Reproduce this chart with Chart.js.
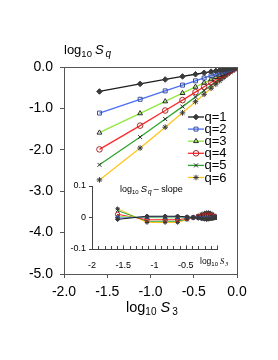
<!DOCTYPE html>
<html>
<head>
<meta charset="utf-8">
<script src="https://cdn.jsdelivr.net/npm/chart.js@4/dist/chart.umd.min.js"></script>
<style>
html,body{margin:0;padding:0;background:#fff;}
#wrap{position:relative;width:278px;height:360px;}
canvas{position:absolute;left:0;top:0;}
</style>
</head>
<body>
<div id="wrap">
<canvas id="main" width="278" height="360"></canvas>
<canvas id="inset" width="278" height="360"></canvas>
</div>
<script>
// log10 S3 (x values)
const X = [-1.59, -1.12, -0.83, -0.63, -0.48, -0.38, -0.30, -0.245, -0.20, -0.165, -0.135, -0.105, -0.08, -0.055, -0.035, -0.015, 0.0];
// log10 Sq for q = 1..6
const Q1 = [-0.591, -0.408, -0.301, -0.228, -0.175, -0.140, -0.112, -0.094, -0.079, -0.067, -0.055, -0.043, -0.032, -0.022, -0.014, -0.006, 0.000];
const Q2 = [-1.112, -0.780, -0.577, -0.438, -0.334, -0.265, -0.210, -0.173, -0.143, -0.118, -0.097, -0.075, -0.058, -0.039, -0.024, -0.010, 0.000];
const Q3 = [-1.587, -1.120, -0.831, -0.631, -0.480, -0.380, -0.300, -0.245, -0.200, -0.165, -0.135, -0.105, -0.080, -0.055, -0.035, -0.015, 0.000];
const Q4 = [-1.990, -1.416, -1.051, -0.800, -0.607, -0.478, -0.374, -0.303, -0.245, -0.200, -0.162, -0.125, -0.096, -0.066, -0.042, -0.018, 0.000];
const Q5 = [-2.363, -1.692, -1.257, -0.957, -0.725, -0.570, -0.445, -0.359, -0.289, -0.236, -0.191, -0.147, -0.111, -0.077, -0.050, -0.022, 0.000];
const Q6 = [-2.727, -1.957, -1.454, -1.108, -0.839, -0.659, -0.514, -0.414, -0.333, -0.270, -0.218, -0.168, -0.128, -0.087, -0.057, -0.024, 0.000];
// inset: log10 Sq - slope * log10 S3
const R1 = [-0.006, 0.004, 0.004, 0.004, 0.002, 0.000, -0.002, -0.004, -0.005, -0.006, -0.005, -0.004, -0.003, -0.002, -0.001, 0.000, 0.000];
const R2 = [-0.002, 0.002, 0.002, 0.002, 0.001, 0.000, -0.001, -0.002, -0.003, -0.003, -0.003, -0.002, -0.002, -0.001, 0.000, 0.000, 0.000];
const R3 = [0.003, 0.000, -0.001, -0.001, 0.000, 0.000, 0.000, 0.000, 0.000, 0.000, 0.000, 0.000, 0.000, 0.000, 0.000, 0.000, 0.000];
const R4 = [0.010, -0.007, -0.007, -0.007, -0.003, 0.000, 0.003, 0.005, 0.007, 0.008, 0.008, 0.007, 0.005, 0.003, 0.002, 0.001, 0.000];
const R5 = [0.022, -0.012, -0.012, -0.012, -0.005, 0.000, 0.005, 0.009, 0.011, 0.012, 0.012, 0.011, 0.009, 0.006, 0.003, 0.001, 0.000];
const R6 = [0.028, -0.016, -0.016, -0.016, -0.007, 0.000, 0.006, 0.011, 0.014, 0.016, 0.016, 0.014, 0.011, 0.008, 0.004, 0.002, 0.000];

const SERIES_NAMES = ['q=1', 'q=2', 'q=3', 'q=4', 'q=5', 'q=6'];
const MAIN_X_TICKS = [-2.0, -1.5, -1.0, -0.5, 0.0];
const MAIN_Y_TICKS = [0.0, -1.0, -2.0, -3.0, -4.0, -5.0];
const INSET_X_TICKS = [-2, -1.5, -1, -0.5];
const INSET_Y_TICKS = [0.1, 0, -0.1];

const LINE_COLORS = ['#1e1e1e', '#4b6ef5', '#8fe83c', '#ff2b2b', '#2ea52e', '#ffc41f'];
const MARK_COLORS = ['#3a3a3a', '#3a4f9e', '#2a2a2a', '#a02828', '#2a2a2a', '#3a3a3a'];
const MARK_FILL = ['#3a3a3a', 'rgba(255,255,255,0)', 'rgba(255,255,255,0)', 'rgba(255,255,255,0)', 'rgba(255,255,255,0)', 'rgba(255,255,255,0)'];
const STYLES = ['rectRot', 'rect', 'triangle', 'circle', 'crossRot', 'star'];
const MAIN_SERIES = [Q1, Q2, Q3, Q4, Q5, Q6];
const INSET_SERIES = [R1, R2, R3, R4, R5, R6];

const SANS = '"Liberation Sans", Arial, sans-serif';
const SERIF = '"Liberation Serif", "Times New Roman", serif';

function pts(ys) { return X.map((x, i) => ({x: x, y: ys[i]})); }

function rich(ctx, x, y, parts, color) {
  ctx.save();
  ctx.fillStyle = color || '#000';
  ctx.textBaseline = 'alphabetic';
  ctx.textAlign = 'left';
  let cx = x;
  for (const p of parts) {
    ctx.font = p.f;
    ctx.fillText(p.t, cx, y + (p.dy || 0));
    cx += ctx.measureText(p.t).width + (p.gap || 0);
  }
  ctx.restore();
}

const mainPlugin = {
  id: 'mainDeco',
  afterDraw(chart) {
    const ctx = chart.ctx, a = chart.chartArea;
    ctx.save();
    ctx.strokeStyle = '#555';
    ctx.lineWidth = 1;
    ctx.strokeRect(Math.round(a.left) + 0.5, Math.round(a.top) + 0.5, Math.round(a.right - a.left), Math.round(a.bottom - a.top));
    ctx.restore();
    // y title
    rich(ctx, 64, 54, [
      {t: 'log', f: '13px ' + SANS},
      {t: '10', f: '9.5px ' + SANS, dy: 2.5, gap: 3},
      {t: 'S', f: 'italic 13px ' + SANS, gap: 2},
      {t: 'q', f: 'italic 10px ' + SANS, dy: 3}
    ]);
    // x title
    rich(ctx, 126, 312, [
      {t: 'log', f: '14.5px ' + SANS},
      {t: '10', f: '10px ' + SANS, dy: 3, gap: 4},
      {t: 'S', f: 'italic 14.5px ' + SANS, gap: 2},
      {t: '3', f: '10px ' + SANS, dy: 3}
    ]);
    // legend
    for (let i = 0; i < 6; i++) {
      const ly = 117 + i * 12.1;
      ctx.save();
      ctx.strokeStyle = LINE_COLORS[i];
      ctx.lineWidth = 1.3;
      ctx.beginPath();
      ctx.moveTo(188, ly); ctx.lineTo(204, ly);
      ctx.stroke();
      ctx.strokeStyle = MARK_COLORS[i];
      ctx.fillStyle = MARK_FILL[i];
      ctx.lineWidth = 1;
      Chart.helpers.drawPoint(ctx, {pointStyle: STYLES[i], radius: 2.8, borderWidth: 1, rotation: 0}, 196, ly);
      ctx.restore();
      ctx.save();
      ctx.fillStyle = '#000';
      ctx.font = '13px ' + SANS;
      ctx.textBaseline = 'middle';
      ctx.fillText(SERIES_NAMES[i], 204.5, ly + 0.5);
      ctx.restore();
    }
  }
};

new Chart(document.getElementById('main'), {
  type: 'scatter',
  data: {
    datasets: MAIN_SERIES.map((s, i) => ({
      label: SERIES_NAMES[i],
      data: pts(s),
      showLine: true,
      borderColor: LINE_COLORS[i],
      borderWidth: 1.3,
      pointStyle: STYLES[i],
      pointRadius: 2.8,
      pointBorderWidth: 1,
      pointBorderColor: MARK_COLORS[i],
      pointBackgroundColor: MARK_FILL[i],
      tension: 0
    }))
  },
  options: {
    responsive: false,
    animation: false,
    devicePixelRatio: 1,
    layout: {padding: {left: 0, right: 41, top: 67, bottom: 0}},
    plugins: {legend: {display: false}, tooltip: {enabled: false}},
    scales: {
      x: {
        type: 'linear', min: -2, max: 0,
        afterFit(s) { s.height = 86; },
        afterBuildTicks(s) { s.ticks = MAIN_X_TICKS.map(v => ({value: v})); },
        ticks: {
          callback: v => Number(v).toFixed(1),
          font: {family: SANS, size: 14}, color: '#000', padding: 6, maxRotation: 0
        },
        grid: {display: true, drawOnChartArea: false, drawTicks: true, tickLength: 4, color: '#555'},
        border: {display: true, color: '#555'}
      },
      y: {
        type: 'linear', min: -5, max: 0,
        afterFit(s) { s.width = 64; },
        afterBuildTicks(s) { s.ticks = MAIN_Y_TICKS.map(v => ({value: v})); },
        ticks: {
          callback: v => Number(v).toFixed(1),
          font: {family: SANS, size: 14}, color: '#000', padding: 7
        },
        grid: {display: true, drawOnChartArea: false, drawTicks: true, tickLength: 4, color: '#555'},
        border: {display: true, color: '#555'}
      }
    }
  },
  plugins: [mainPlugin]
});

const insetPlugin = {
  id: 'insetDeco',
  afterDraw(chart) {
    const ctx = chart.ctx, a = chart.chartArea, xs = chart.scales.x;
    ctx.save();
    ctx.strokeStyle = '#444';
    ctx.lineWidth = 1;
    for (let k = -20; k <= 0; k++) {
      const px = Math.round(xs.getPixelForValue(k / 10)) + 0.5;
      const len = (k % 5 === 0) ? 3.5 : 3;
      ctx.beginPath();
      ctx.moveTo(px, a.bottom);
      ctx.lineTo(px, a.bottom - len);
      ctx.stroke();
    }
    ctx.restore();
    rich(ctx, 120, 192, [
      {t: 'log', f: '9px ' + SANS},
      {t: '10', f: '6px ' + SANS, dy: 2, gap: 2},
      {t: 'S', f: 'italic 9.5px ' + SANS, gap: 1},
      {t: 'q', f: 'italic 6.5px ' + SANS, dy: 2, gap: 2},
      {t: '\u2013 slope', f: '9px ' + SANS}
    ]);
    rich(ctx, 200, 264, [
      {t: 'log', f: '8.5px ' + SANS},
      {t: '10', f: '6px ' + SANS, dy: 1.5, gap: 2},
      {t: 'S', f: 'italic 8.5px ' + SERIF, gap: 1},
      {t: '3', f: 'italic 6px ' + SERIF, dy: 1.5}
    ]);
  }
};

new Chart(document.getElementById('inset'), {
  type: 'scatter',
  data: {
    datasets: INSET_SERIES.map((s, i) => ({
      label: SERIES_NAMES[i],
      data: pts(s),
      showLine: true,
      borderColor: LINE_COLORS[i],
      borderWidth: 1,
      pointStyle: STYLES[i],
      pointRadius: 2.2,
      pointBorderWidth: 1,
      pointBorderColor: MARK_COLORS[i],
      pointBackgroundColor: MARK_FILL[i],
      tension: 0
    }))
  },
  options: {
    responsive: false,
    animation: false,
    devicePixelRatio: 1,
    layout: {padding: {left: 0, right: 61, top: 186, bottom: 0}},
    plugins: {legend: {display: false}, tooltip: {enabled: false}},
    scales: {
      x: {
        type: 'linear', min: -2, max: 0,
        afterFit(s) { s.height = 111; },
        afterBuildTicks(s) { s.ticks = INSET_X_TICKS.map(v => ({value: v})); },
        ticks: {
          callback: v => String(v),
          font: {family: SANS, size: 9}, color: '#000', padding: 3, maxRotation: 0
        },
        grid: {display: false},
        border: {display: true, color: '#444'}
      },
      y: {
        type: 'linear', min: -0.1, max: 0.1,
        afterFit(s) { s.width = 92; },
        afterBuildTicks(s) { s.ticks = INSET_Y_TICKS.map(v => ({value: v})); },
        ticks: {
          callback: v => (Math.abs(v) < 1e-9 ? '0' : Number(v).toFixed(1)),
          font: {family: SANS, size: 9}, color: '#000', padding: 3
        },
        grid: {display: true, drawOnChartArea: false, drawTicks: true, tickLength: 3, color: '#444'},
        border: {display: true, color: '#444'}
      }
    }
  },
  plugins: [insetPlugin]
});
</script>
</body>
</html>
